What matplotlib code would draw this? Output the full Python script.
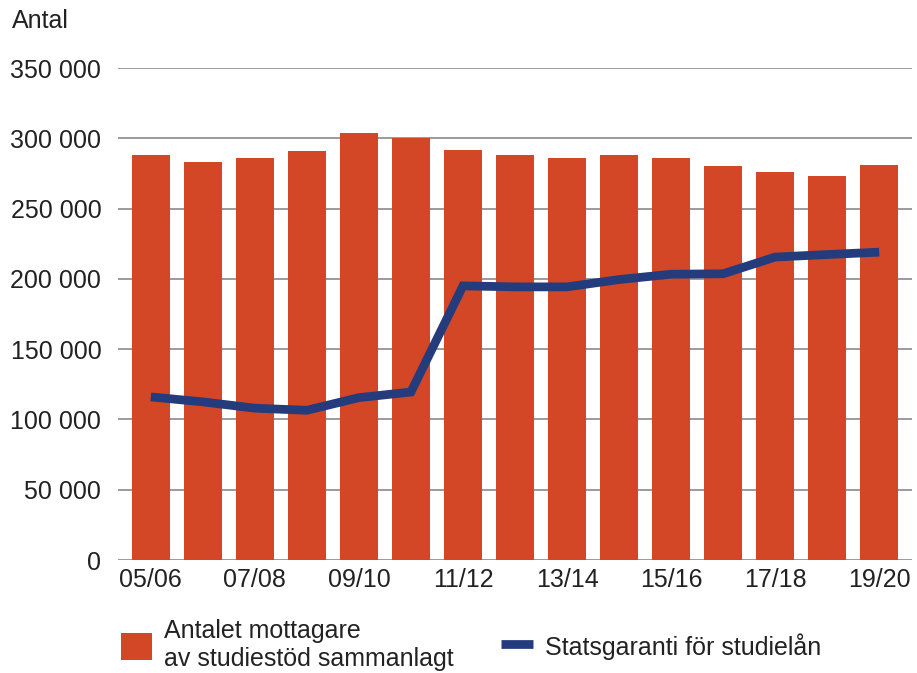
import matplotlib
matplotlib.use("Agg")
import matplotlib.pyplot as plt
from matplotlib.ticker import FuncFormatter

plt.rcParams['font.family'] = ['Liberation Sans Narrow', 'Liberation Sans', 'DejaVu Sans']

# data
years = ["05/06", "06/07", "07/08", "08/09", "09/10", "10/11", "11/12", "12/13",
         "13/14", "14/15", "15/16", "16/17", "17/18", "18/19", "19/20"]
mottagare = [288000, 283000, 286000, 291000, 304000, 300000, 291500, 288000,
             286000, 288000, 286000, 280000, 276000, 273000, 281000]
statsgaranti = [116000, 112500, 108000, 106500, 115500, 119500, 195000, 194300,
                194300, 199500, 203300, 203600, 215500, 217300, 219000]
yticks = [0, 50000, 100000, 150000, 200000, 250000, 300000, 350000]

red = '#D34727'
blue = '#253C7C'

fig = plt.figure(figsize=(9.17, 6.73), dpi=100)
ax = fig.add_axes([118/917, 1 - 560/673, (912 - 118)/917, (560 - 68)/673])

x = list(range(len(years)))
bars = ax.bar(x, mottagare, width=0.73, color=red, zorder=2)
line, = ax.plot(x, statsgaranti, color=blue, lw=6.3, solid_capstyle='butt',
                solid_joinstyle='miter', zorder=3)

ax.set_xlim(-0.63, len(years) - 1 + 0.63)
ax.set_ylim(0, 350000)
ax.set_yticks(yticks)
ax.yaxis.set_major_formatter(FuncFormatter(lambda v, p: f"{int(v):,}".replace(",", " ")))
ax.set_xticks(x[::2])
ax.set_xticklabels(years[::2])
ax.grid(axis='y', color='#8a8a8a', lw=1.2, zorder=1)
for s in ax.spines.values():
    s.set_visible(False)
ax.tick_params(axis='both', length=0, labelsize=18, colors='#222222')
ax.tick_params(axis='y', pad=12)
ax.tick_params(axis='x', pad=6)

fig.text(12/917, 1 - 21/673, "Antal", fontsize=18, color='#222222', va='center', ha='left')

fig.legend([bars, line], ["Antalet mottagare\nav studiestöd sammanlagt", "Statsgaranti för studielån"],
           ncol=2, loc='center left', bbox_to_anchor=(98/917, 1 - 645/673), frameon=False,
           fontsize=18, handlelength=1.25, handleheight=1.3, handletextpad=0.5,
           columnspacing=1.9, labelcolor='#222222')

fig.savefig("out.png", dpi=100)
